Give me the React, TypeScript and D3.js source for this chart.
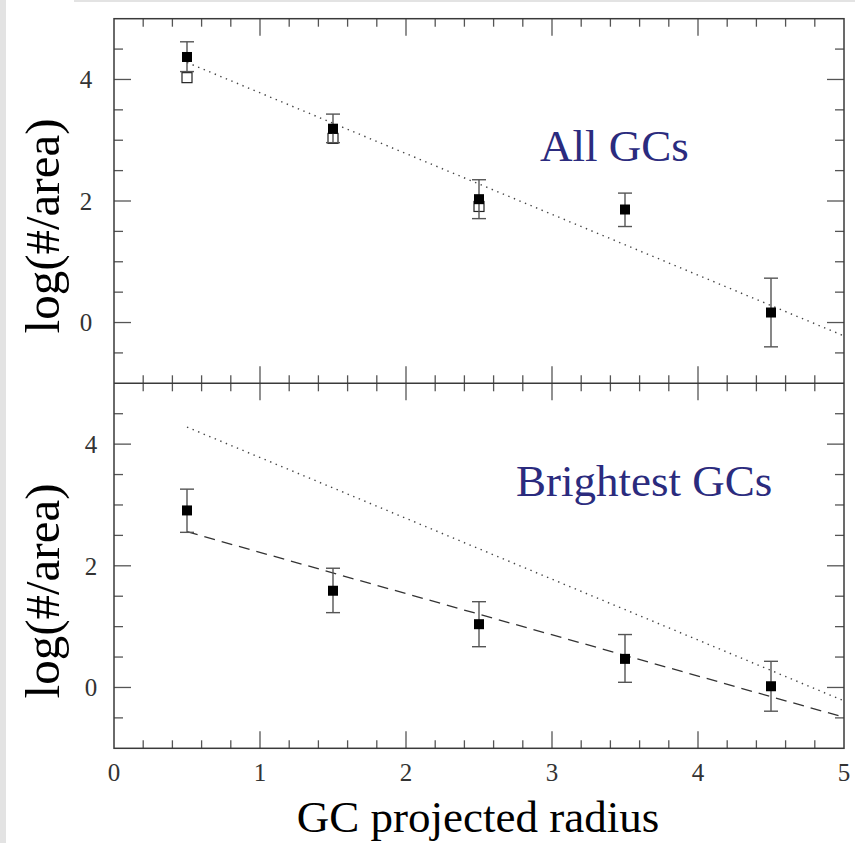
import React from 'react';
import * as d3 from 'd3';

// ---- data ----
const radii = [0.5, 1.5, 2.5, 3.5, 4.5];
const allVals = [4.37, 3.19, 2.03, 1.86, 0.165];
const allErrHi = [4.62, 3.43, 2.35, 2.13, 0.73];
const allErrLo = [4.13, 2.96, 1.71, 1.58, -0.4];
const openRadii = [0.5, 1.5, 2.5];
const openVals = [4.03, 3.03, 1.91];
const brightVals = [2.91, 1.59, 1.04, 0.47, 0.02];
const brightErrHi = [3.26, 1.96, 1.41, 0.87, 0.43];
const brightErrLo = [2.55, 1.23, 0.67, 0.085, -0.39];
const fitX = [0.5, 5];
const dottedFitY = [4.28, -0.22];
const dashedFitY = [2.56, -0.49];
const xTickLabels = [0, 1, 2, 3, 4, 5];
const yTickLabels = [0, 2, 4];

const W = 855;
const H = 843;
const L = 114;
const R = 844;
const T1 = 18.7;
const MID = 383.3;
const B2 = 748.3;

const x = d3.scaleLinear().domain([0, 5]).range([L, R]);
const yTop = d3.scaleLinear().domain([-1, 5]).range([MID, T1]);
const yBot = d3.scaleLinear().domain([-1, 5]).range([B2, MID]);

const AXIS = '#3a3a3a';
const TICK = '#555';
const BAR = '#555';
const NAVY = '#2b2b7e';
const FONT = '"Liberation Serif", "Times New Roman", serif';

function Panel({ y, top, bottom, labelX, filledV, hi, lo, openX, openV, dashed, title, titleX, titleY, ylabY }: any) {
  const minorX = d3.range(0, 5.0001, 0.2).map((v) => +v.toFixed(2));
  const minorY = d3.range(-1, 5.0001, 0.5).map((v) => +v.toFixed(2));
  const line = d3.line<number>().x((d, i) => x(fitX[i])).y((d) => y(d));
  const sq = 10;
  const cap = 7;
  return (
    <g>
      {minorX.map((v) => {
        const major = Math.abs(v - Math.round(v)) < 1e-6;
        const len = major ? 17 : 8;
        if (v === 0 || v === 5) return null;
        return (
          <g key={'xt' + v}>
            <line x1={x(v)} x2={x(v)} y1={top} y2={top + len} stroke={TICK} strokeWidth={1.3} />
            <line x1={x(v)} x2={x(v)} y1={bottom} y2={bottom - len} stroke={TICK} strokeWidth={1.3} />
          </g>
        );
      })}
      {minorY.map((v) => {
        const major = v === 0 || v === 2 || v === 4;
        const len = major ? 17 : 9;
        if (v === -1 || v === 5) return null;
        return (
          <g key={'yt' + v}>
            <line x1={L} x2={L + len} y1={y(v)} y2={y(v)} stroke={TICK} strokeWidth={1.3} />
            <line x1={R} x2={R - len} y1={y(v)} y2={y(v)} stroke={TICK} strokeWidth={1.3} />
          </g>
        );
      })}
      {yTickLabels.map((v) => (
        <text key={'yl' + v} x={labelX} y={y(v)} dy="0.35em" textAnchor="middle" fontFamily={FONT} fontSize={25} fill="#333">
          {v}
        </text>
      ))}
      <path d={line(dottedFitY) || ''} fill="none" stroke="#444" strokeWidth={1.4} strokeDasharray="1.4,4.6" />
      {dashed && (
        <path d={line(dashedFitY) || ''} fill="none" stroke="#333" strokeWidth={1.3} strokeDasharray="11,7" />
      )}
      {openX &&
        openX.map((r: number, i: number) => (
          <rect key={'o' + i} x={x(r) - sq / 2} y={y(openV[i]) - sq / 2} width={sq} height={sq} fill="none" stroke="#222" strokeWidth={1.2} />
        ))}
      {radii.map((r, i) => (
        <g key={'e' + i}>
          <line x1={x(r)} x2={x(r)} y1={y(hi[i])} y2={y(lo[i])} stroke={BAR} strokeWidth={1.4} />
          <line x1={x(r) - cap} x2={x(r) + cap} y1={y(hi[i])} y2={y(hi[i])} stroke={BAR} strokeWidth={1.4} />
          <line x1={x(r) - cap} x2={x(r) + cap} y1={y(lo[i])} y2={y(lo[i])} stroke={BAR} strokeWidth={1.4} />
        </g>
      ))}
      {radii.map((r, i) => (
        <rect key={'f' + i} x={x(r) - sq / 2} y={y(filledV[i]) - sq / 2} width={sq} height={sq} fill="#000" />
      ))}
      <text x={titleX} y={titleY} fontFamily={FONT} fontSize={45} fill={NAVY}>
        {title}
      </text>
      <text
        transform={`translate(59,${ylabY}) rotate(-90)`}
        textAnchor="middle"
        fontFamily={FONT}
        fontSize={49}
        fill="#000"
      >
        log(#/area)
      </text>
    </g>
  );
}

export default function App() {
  return (
    <div style={{ position: 'absolute', left: 0, top: 0 }}>
      <svg width={W} height={H} viewBox={`0 0 ${W} ${H}`} style={{ display: 'block' }}>
        <rect x={0} y={0} width={W} height={H} fill="#e3e3e3" />
        <rect x={6} y={2} width={W - 6} height={H - 2} fill="#fff" />
        <rect x={6} y={0} width={68} height={2} fill="#fff" />
        <Panel
          y={yTop}
          top={T1}
          bottom={MID}
          labelX={86}
          filledV={allVals}
          hi={allErrHi}
          lo={allErrLo}
          openX={openRadii}
          openV={openVals}
          dashed={false}
          title="All GCs"
          titleX={540}
          titleY={161}
          ylabY={226}
        />
        <Panel
          y={yBot}
          top={MID}
          bottom={B2}
          labelX={91}
          filledV={brightVals}
          hi={brightErrHi}
          lo={brightErrLo}
          openX={null}
          openV={null}
          dashed={true}
          title="Brightest GCs"
          titleX={516}
          titleY={496}
          ylabY={591}
        />
        <rect x={L} y={T1} width={R - L} height={B2 - T1} fill="none" stroke={AXIS} strokeWidth={1.5} />
        <line x1={L} x2={R} y1={MID} y2={MID} stroke={AXIS} strokeWidth={1.5} />
        {xTickLabels.map((v) => (
          <text key={'xl' + v} x={x(v)} y={781} textAnchor="middle" fontFamily={FONT} fontSize={25} fill="#333">
            {v}
          </text>
        ))}
        <text x={(296 + 660) / 2} y={832} textAnchor="middle" fontFamily={FONT} fontSize={45} fill="#000">
          GC projected radius
        </text>
      </svg>
    </div>
  );
}
